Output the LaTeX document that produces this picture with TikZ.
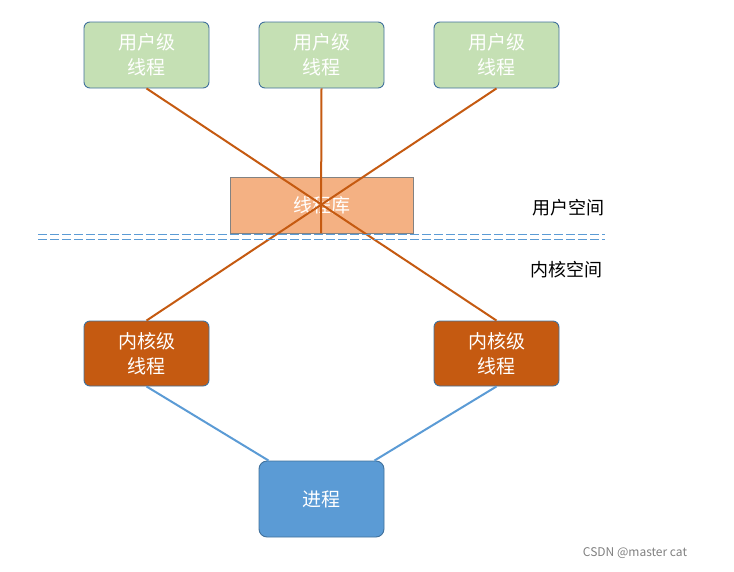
\documentclass[tikz,border=0pt]{standalone}
\usepackage{fontspec}
\setmainfont{Noto Sans CJK SC}
\begin{document}
\begin{tikzpicture}[x=1pt,y=-1pt,
  oline/.style={line width=2pt,color={rgb,255:red,197;green,90;blue,17}},
  bline/.style={line width=2pt,color={rgb,255:red,91;green,155;blue,213}},
  ub/.style={draw={rgb,255:red,65;green,113;blue,156},rounded corners=6pt,line width=0.9pt,minimum width=125pt,minimum height=66pt,align=center,font=\fontsize{19}{25}\selectfont,inner sep=0pt,text=white}]
\useasboundingbox (0,0) rectangle (734,571);
\node[ub,fill={rgb,255:red,197;green,224;blue,180}] (u1) at (146.5,55) {用户级\\线程};
\node[ub,fill={rgb,255:red,197;green,224;blue,180}] (u2) at (321.5,55) {用户级\\线程};
\node[ub,fill={rgb,255:red,197;green,224;blue,180}] (u3) at (496.5,55) {用户级\\线程};
\node[ub,rounded corners=0pt,draw={rgb,255:red,130;green,130;blue,130},fill={rgb,255:red,244;green,177;blue,131},minimum width=183pt,minimum height=56pt] (lib) at (321.5,205) {线程库};
\node[ub,fill={rgb,255:red,197;green,90;blue,17},minimum height=65pt] (k1) at (146.5,353.5) {内核级\\线程};
\node[ub,fill={rgb,255:red,197;green,90;blue,17},minimum height=65pt] (k2) at (496.5,353.5) {内核级\\线程};
\node[ub,fill={rgb,255:red,91;green,155;blue,213},minimum height=76pt,rounded corners=8pt] (p) at (321.5,499) {进程};
\coordinate (c) at (321,233);
\draw[oline] (u1.south) -- (k2.north);
\draw[oline] (u3.south) -- (k1.north);
\draw[oline] (u2.south) -- (c);
\draw[bline] (k1.south) -- ([xshift=10pt]p.north west);
\draw[bline] (k2.south) -- ([xshift=-10pt]p.north east);
\draw[line width=1pt,dash pattern=on 9pt off 3pt,color={rgb,255:red,91;green,155;blue,213}] (38,234.5) -- (605,234.5) (38,239.5) -- (605,239.5);
\node[font=\fontsize{18}{22}\selectfont] (us) at (568,208) {用户空间};
\node[font=\fontsize{18}{22}\selectfont] (ks) at (566,270) {内核空间};
\node[font=\fontsize{12}{14}\selectfont,text=gray] (wm) at (635,553) {CSDN @master cat};
\end{tikzpicture}
\end{document}
